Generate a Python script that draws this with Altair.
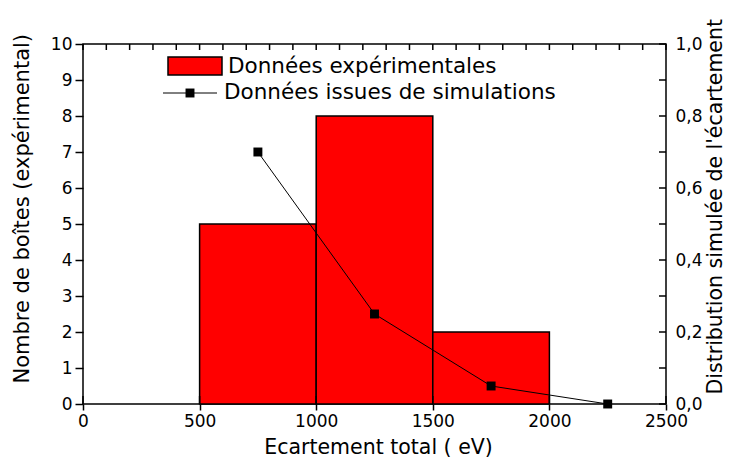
import altair as alt
import pandas as pd

# ---- data ----
bin_start = [500, 1000, 1500]
bin_end = [1000, 1500, 2000]
counts = [5, 8, 2]

sim_x = [750, 1250, 1750, 2250]
sim_y = [0.70, 0.25, 0.05, 0.00]

x_ticks = [0, 500, 1000, 1500, 2000, 2500]
x_minor = list(range(0, 2501, 100))
left_ticks = list(range(0, 11))
right_ticks = [0.0, 0.1, 0.2, 0.3, 0.4, 0.5, 0.6, 0.7, 0.8, 0.9, 1.0]

legend_labels = ["Données expérimentales", "Données issues de simulations"]
x_title = "Ecartement total ( eV)"
left_title = "Nombre de boîtes (expérimental)"
right_title = "Distribution simulée de l'écartement"

FONT = "DejaVu Sans"
W, H = 583, 360

xscale = alt.Scale(domain=[0, 2500], nice=False, zero=False)
yL = alt.Scale(domain=[0, 10], nice=False)
yR = alt.Scale(domain=[0, 1], nice=False)

x_axis = alt.Axis(values=x_ticks, title=x_title, format="d", tickSize=6, tickWidth=1.5,
                  labelPadding=3, labelFontSize=17, labelFlush=False, titleFontSize=20.5,
                  titleX=295, titleY=43, titleAlign="center", titleBaseline="middle")

bars_df = pd.DataFrame({"x": bin_start, "x2": bin_end, "count": counts, "zero": [0] * len(counts)})
sim_df = pd.DataFrame({"x": sim_x, "y": sim_y})

bars = alt.Chart(bars_df).mark_rect(fill="#ff0000", stroke="black", strokeWidth=1.5).encode(
    x=alt.X("x:Q", scale=xscale, axis=x_axis),
    x2="x2:Q",
    y=alt.Y("count:Q", scale=yL, axis=alt.Axis(
        values=left_ticks, title=left_title, format="d", tickSize=8, tickWidth=1.5,
        labelPadding=3, labelFontSize=17, labelFlush=False, titleFontSize=21,
        titleAngle=270, titleX=-61, titleY=339, titleAlign="left", titleBaseline="middle")),
    y2="zero:Q",
)

line = alt.Chart(sim_df).mark_line(color="black", strokeWidth=1).encode(
    x=alt.X("x:Q", scale=xscale, axis=x_axis),
    y=alt.Y("y:Q", scale=yR, axis=alt.Axis(
        orient="right", values=right_ticks, ticks=False, labelPadding=9, labelFontSize=17,
        labelFlush=False,
        labelExpr="(round(datum.value*10) % 2 == 0) ? replace(format(datum.value, '.1f'), '.', ',') : ''",
        title=right_title, titleFontSize=20.5, titleAngle=270, titleX=55, titleY=350,
        titleAlign="left", titleBaseline="alphabetic")),
)

pts = alt.Chart(sim_df).mark_point(shape="square", filled=True, color="black", size=80, opacity=1).encode(
    x=alt.X("x:Q", scale=xscale, axis=x_axis),
    y=alt.Y("y:Q", scale=yR, axis=None),
)

# inward tick marks
bottom_in = alt.Chart(pd.DataFrame({"x": x_ticks})).mark_rule(color="black", strokeWidth=1.5).encode(
    x=alt.X("x:Q", scale=xscale, axis=x_axis), y=alt.value(H), y2=alt.value(H - 8))
top_in = alt.Chart(pd.DataFrame({"x": x_minor})).mark_rule(color="black", strokeWidth=1.5).encode(
    x=alt.X("x:Q", scale=xscale, axis=x_axis), y=alt.value(0), y2=alt.value(6))
right_in = alt.Chart(pd.DataFrame({"y": right_ticks})).mark_rule(color="black", strokeWidth=1.5).encode(
    y=alt.Y("y:Q", scale=yR, axis=None), x=alt.value(W), x2=alt.value(W - 7))

# legend
leg1 = pd.DataFrame({"label": [legend_labels[0]]})
leg2 = pd.DataFrame({"label": [legend_labels[1]]})
leg_rect = alt.Chart(leg1).mark_rect(fill="#ff0000", stroke="black", strokeWidth=1.5).encode(
    x=alt.value(85), x2=alt.value(139), y=alt.value(13), y2=alt.value(31))
leg_text1 = alt.Chart(leg1).mark_text(align="left", baseline="middle", font=FONT, fontSize=21.5, color="black").encode(
    x=alt.value(145), y=alt.value(23), text="label:N")
leg_line = alt.Chart(leg2).mark_rule(color="black", strokeWidth=1).encode(
    x=alt.value(80), x2=alt.value(134), y=alt.value(49))
leg_sq = alt.Chart(leg2).mark_point(shape="square", filled=True, color="black", size=80, opacity=1).encode(
    x=alt.value(107), y=alt.value(49))
leg_text2 = alt.Chart(leg2).mark_text(align="left", baseline="middle", font=FONT, fontSize=21.5, color="black").encode(
    x=alt.value(141), y=alt.value(49), text="label:N")

chart = alt.layer(
    bars, line, pts, bottom_in, top_in, right_in,
    leg_rect, leg_text1, leg_line, leg_sq, leg_text2
).resolve_scale(y="independent").properties(
    width=W, height=H,
    autosize=alt.AutoSizeParams(type="none"),
    padding={"left": 75, "top": 36, "right": 61, "bottom": 55},
).configure_axis(
    labelFont=FONT, titleFont=FONT, titleFontWeight="normal", labelColor="black",
    titleColor="black", tickColor="black", domain=False, grid=False, labelOverlap=False,
).configure_view(stroke="black", strokeWidth=1.5)

chart.save("out.html", embed_options={"renderer": "svg", "actions": False})
